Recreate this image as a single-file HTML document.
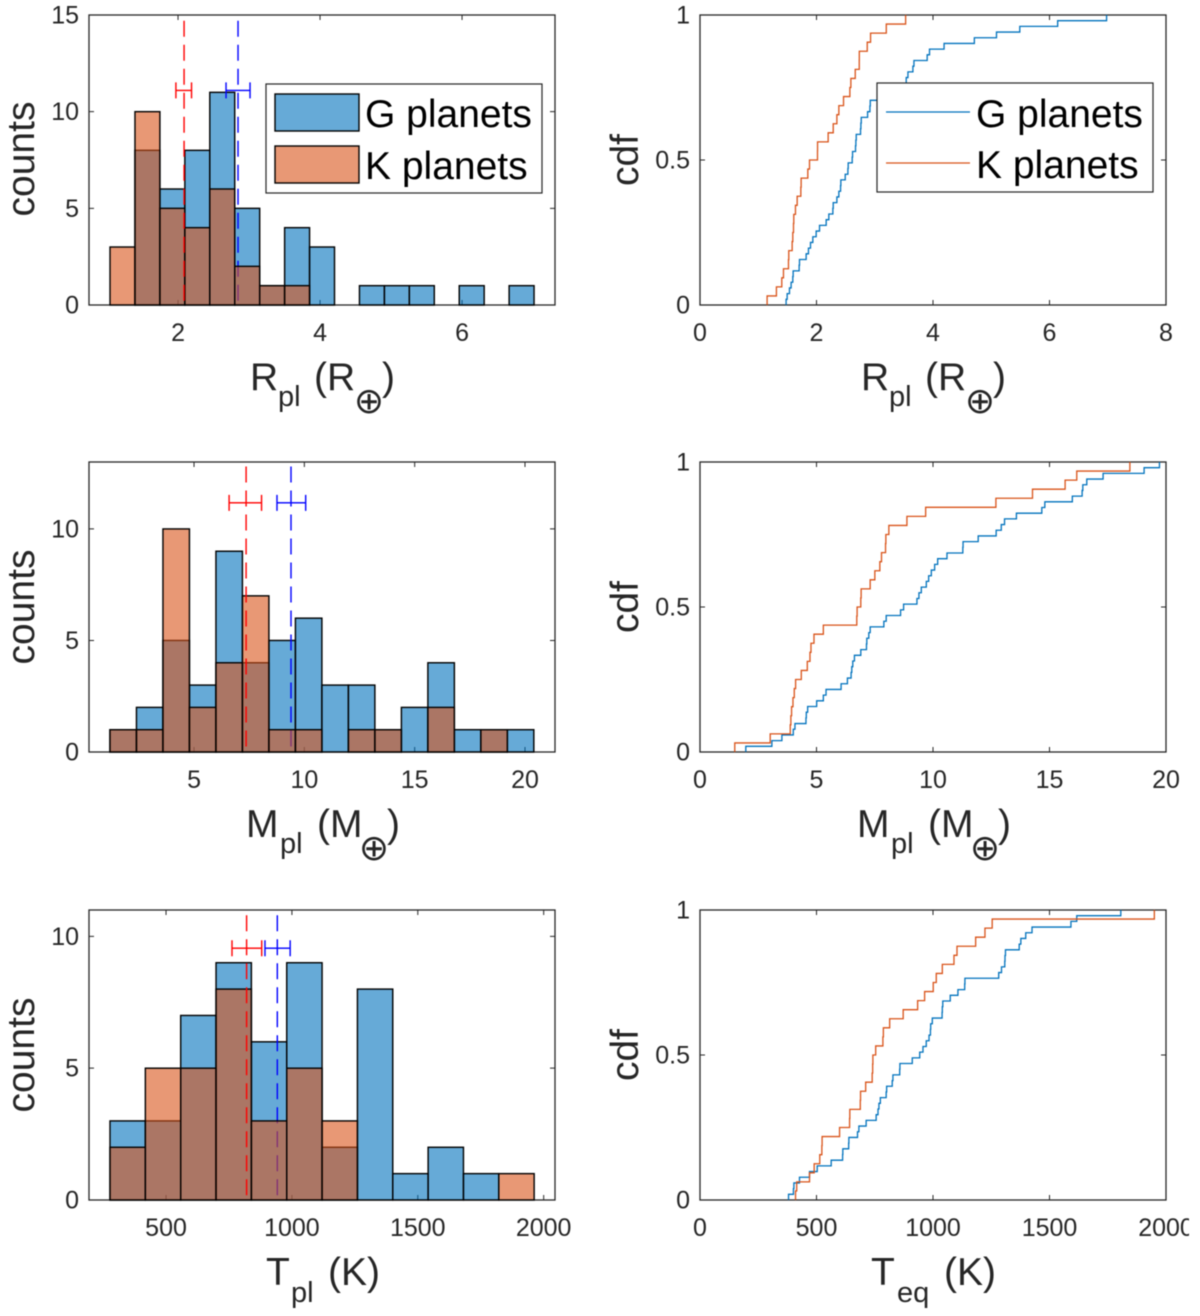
<!DOCTYPE html>
<html lang="en">
<head>
<meta charset="utf-8">
<title>G and K planet histograms and CDFs</title>
<style>
html,body{margin:0;padding:0;background:#fff;}
svg{display:block;filter:blur(0.4px);}
text{font-family:"Liberation Sans","DejaVu Sans",sans-serif;fill:#262626;}
.tick{font-size:25px;}
.lab{font-size:39px;}
.sub{font-size:29px;}
.leg{font-size:39px;fill:#000;}
.earth{font-family:"DejaVu Sans",sans-serif;font-size:36px;text-anchor:middle;}
</style>
</head>
<body>
<svg id="figure" xmlns="http://www.w3.org/2000/svg" width="1200" height="1316" viewBox="0 0 1200 1316">
  <rect x="0" y="0" width="1200" height="1316" fill="#fff"/>
  <g id="panels"></g>

  <g>
    <text class="lab" transform="translate(34,159) rotate(-90)" text-anchor="middle">counts</text>
    <text class="lab" y="390"><tspan x="250">R</tspan><tspan class="sub" x="278" y="406">pl</tspan><tspan x="314" y="390">(R</tspan><tspan x="382">)</tspan></text>
    <text class="earth" x="369" y="413">⊕</text>
  </g>
  <g>
    <text class="lab" transform="translate(638,160) rotate(-90)" text-anchor="middle">cdf</text>
    <text class="lab" y="390"><tspan x="861">R</tspan><tspan class="sub" x="889" y="406">pl</tspan><tspan x="925" y="390">(R</tspan><tspan x="993">)</tspan></text>
    <text class="earth" x="980" y="413">⊕</text>
  </g>
  <g>
    <text class="lab" transform="translate(34,607) rotate(-90)" text-anchor="middle">counts</text>
    <text class="lab" y="837"><tspan x="246">M</tspan><tspan class="sub" x="280" y="853">pl</tspan><tspan x="317" y="837">(M</tspan><tspan x="387">)</tspan></text>
    <text class="earth" x="374" y="860">⊕</text>
  </g>
  <g>
    <text class="lab" transform="translate(638,607) rotate(-90)" text-anchor="middle">cdf</text>
    <text class="lab" y="837"><tspan x="857">M</tspan><tspan class="sub" x="891" y="853">pl</tspan><tspan x="928" y="837">(M</tspan><tspan x="998">)</tspan></text>
    <text class="earth" x="985" y="860">⊕</text>
  </g>
  <g>
    <text class="lab" transform="translate(34,1055) rotate(-90)" text-anchor="middle">counts</text>
    <text class="lab" y="1285"><tspan x="266">T</tspan><tspan class="sub" x="291" y="1302">pl</tspan><tspan x="328" y="1285">(K)</tspan></text>
  </g>
  <g>
    <text class="lab" transform="translate(638,1055) rotate(-90)" text-anchor="middle">cdf</text>
    <text class="lab" y="1285"><tspan x="871">T</tspan><tspan class="sub" x="897" y="1302">eq</tspan><tspan x="944" y="1285">(K)</tspan></text>
  </g>

  <g>
    <rect x="266" y="84" width="276" height="109" fill="#fff" stroke="#262626" stroke-width="1.2"/>
    <rect x="275" y="94" width="84" height="37" fill="#66AAD7" stroke="#000" stroke-width="1.4"/>
    <text class="leg" x="365" y="127">G planets</text>
    <rect x="275" y="146" width="84" height="37" fill="#E89875" stroke="#000" stroke-width="1.4"/>
    <text class="leg" x="365" y="179">K planets</text>
  </g>
  <g>
    <rect x="877" y="83" width="276" height="109" fill="#fff" stroke="#262626" stroke-width="1.2"/>
    <line x1="886" x2="970" y1="112" y2="112" stroke="#0072BD" stroke-width="1.2"/>
    <text class="leg" x="976" y="127">G planets</text>
    <line x1="886" x2="970" y1="163" y2="163" stroke="#D95319" stroke-width="1.2"/>
    <text class="leg" x="976" y="178">K planets</text>
  </g>
  <rect x="1189" y="0" width="11" height="1316" fill="#fff"/>
</svg>

<script>
// ---- Histogram counts ----
const radiusCountsG = [0,8,6,8,11,5,1,4,3,0,1,1,1,0,1,0,1];
const radiusCountsK = [3,10,5,4,6,2,1,1,0,0,0,0,0,0,0,0,0];
const massCountsG = [1,2,5,3,9,4,5,6,3,3,1,2,4,1,1,1];
const massCountsK = [1,1,10,2,4,7,1,1,0,1,1,0,2,0,1,0];
const tempCountsG = [3,3,7,9,6,9,2,8,1,2,1,0];
const tempCountsK = [2,5,5,8,3,5,3,0,0,0,0,1];

// ---- Histogram bins: [first edge, bin width] ----
const radiusBins = [1.042,0.3513];
const massBins = [1.19,1.2007];
const tempBins = [277.4,140.4];

// ---- Means with error ranges: [mean, low, high] ----
const radiusMeanG = [2.845,2.676,3.014];
const radiusMeanK = [2.085,1.97,2.19];
const massMeanG = [9.395,8.76,10.06];
const massMeanK = [7.36,6.59,8.06];
const tempMeanG = [942,893,993];
const tempMeanK = [820,762,880];

// ---- Mean marker heights in counts: [error bar level, dashed line top] ----
const radiusMarkerLevels = [11.1,14.7];
const massMarkerLevels = [11.17,12.8];
const tempMarkerLevels = [9.55,10.8];

// ---- Axis limits and tick labels ----
const radiusHistXLim = [0.746,7.309];
const massHistXLim = [0.24,21.36];
const tempHistXLim = [194,2045];
const radiusHistYMax = [15];
const massHistYMax = [13];
const tempHistYMax = [11];
const radiusHistXTicks = [2,4,6];
const massHistXTicks = [5,10,15,20];
const tempHistXTicks = [500,1000,1500,2000];
const radiusHistYTicks = [0,5,10,15];
const massHistYTicks = [0,5,10];
const tempHistYTicks = [0,5,10];
const radiusCdfXTicks = [0,2,4,6,8];
const massCdfXTicks = [0,5,10,15,20];
const tempCdfXTicks = [0,500,1000,1500,2000];
const cdfYTicks = [0,0.5,1];

// ---- CDF samples (sorted values; each sample is one step) ----
const radiusSamplesG = [1.478,1.496,1.536,1.564,1.593,1.599,1.702,1.708,1.822,1.862,1.897,1.937,1.994,2.052,2.166,2.212,2.281,2.287,2.35,2.384,2.413,2.418,2.493,2.539,2.544,2.613,2.619,2.67,2.676,2.682,2.756,2.762,2.768,2.877,2.917,2.923,3.1,3.2,3.3,3.54,3.57,3.655,3.673,3.9,3.94,4.19,4.71,5.09,5.49,6.14,6.98];
const radiusSamplesK = [1.152,1.312,1.404,1.433,1.519,1.524,1.582,1.593,1.605,1.61,1.639,1.668,1.731,1.736,1.851,1.88,2.017,2.018,2.2,2.287,2.35,2.384,2.464,2.573,2.59,2.665,2.734,2.735,2.871,2.928,3.198,3.53];
const massSamplesG = [1.966,3.085,3.515,4.003,4.075,4.548,4.562,4.62,5.007,5.294,5.409,6.055,6.327,6.485,6.514,6.557,6.628,6.901,7.145,7.159,7.245,7.303,7.891,7.991,8.608,8.738,9.311,9.397,9.498,9.713,9.813,9.928,10.07,10.2,10.6,11.28,11.29,11.94,12.71,12.93,13.07,13.58,14.67,14.8,15.98,16.4,16.43,16.6,17.3,19.06,19.72];
const massSamplesK = [1.492,3.013,3.874,3.9,3.93,3.99,4.046,4.103,4.347,4.605,4.72,4.763,4.892,5.294,6.729,6.743,6.9,6.915,7.303,7.504,7.719,7.79,7.963,7.977,8.106,8.881,9.684,12.7,14.27,15.67,16.17,18.45];
const tempSamplesG = [380,401,403,427,470,503,563,612,613,638,639,676,682,713,756,764,768,774,799,801,825,828,857,858,911,943,957,971,983,989,990,997,1039,1040,1042,1074,1107,1136,1137,1282,1294,1308,1309,1311,1370,1377,1398,1425,1592,1617,1806];
const tempSamplesK = [410,415,470,490,514,523,524,599,642,643,688,689,711,739,741,742,754,785,787,814,872,934,964,1001,1014,1040,1090,1103,1183,1223,1254,1950];

// ---- Drawing ----
const NS = 'http://www.w3.org/2000/svg';
const PANEL_W = 466, PANEL_H = 290, TICK = 5;
const COL_G = '#0072BD', COL_K = '#D95319', INK = '#262626';
const root = document.getElementById('panels');

function el(tag, parent, attrs) {
  const node = document.createElementNS(NS, tag);
  for (const key in attrs) node.setAttribute(key, attrs[key]);
  parent.appendChild(node);
  return node;
}

function makeScale(d0, d1, r0, r1) {
  return function (v) { return r0 + (v - d0) / (d1 - d0) * (r1 - r0); };
}

function drawAxes(g, x, y, box, xTicks, yTicks, yLabelFn, prefix) {
  const frame = el('rect', g, {x: box.l, y: box.t, width: PANEL_W, height: PANEL_H, fill: '#fff', stroke: INK, 'stroke-width': 1.3});
  
  
  xTicks.forEach(function (t) {
    const px = x(t);
    const mark = el('path', g, {d: 'M' + px + ' ' + box.b + 'v' + (-TICK) + 'M' + px + ' ' + box.t + 'v' + TICK, stroke: INK, 'stroke-width': 1, fill: 'none'});
    
    
    const label = el('text', g, {class: 'tick', x: px, y: box.b + 36, 'text-anchor': 'middle'});
    label.textContent = String(t);
    
    
  });
  yTicks.forEach(function (t) {
    const py = y(t);
    const mark = el('path', g, {d: 'M' + box.l + ' ' + py + 'h' + TICK + 'M' + (box.l + PANEL_W) + ' ' + py + 'h' + (-TICK), stroke: INK, 'stroke-width': 1, fill: 'none'});
    
    
    const label = el('text', g, {class: 'tick', x: box.l - 10, y: py + 8.5, 'text-anchor': 'end'});
    label.textContent = yLabelFn(t);
    
    
  });
}

function drawBars(g, x, y, bins, counts, color, prefix) {
  counts.forEach(function (c, i) {
    const x0 = x(bins[0] + i * bins[1]);
    const x1 = x(bins[0] + (i + 1) * bins[1]);
    const bar = el('rect', g, {x: x0, y: y(c), width: x1 - x0, height: y(0) - y(c), fill: color, 'fill-opacity': 0.6, stroke: '#000', 'stroke-width': 1.4});
    
    
  });
}

function drawMean(g, x, y, mean, levels, color, prefix) {
  const dash = el('line', g, {x1: x(mean[0]), x2: x(mean[0]), y1: y(levels[1]), y2: y(0), stroke: color, 'stroke-width': 1.4, 'stroke-dasharray': '16 8'});
  
  
  const py = y(levels[0]);
  const err = el('path', g, {d: 'M' + x(mean[1]) + ' ' + (py - 8) + 'v16M' + x(mean[2]) + ' ' + (py - 8) + 'v16M' + x(mean[1]) + ' ' + py + 'H' + x(mean[2]), stroke: color, 'stroke-width': 1.4, fill: 'none'});
  
  
}

function drawHist(name, left, top, xLim, yMax, bins, countsG, countsK, meanG, meanK, levels, xTicks, yTicks) {
  const g = el('g', root, {});
  
  
  const box = {l: left, t: top, b: top + PANEL_H};
  const x = makeScale(xLim[0], xLim[1], left, left + PANEL_W);
  const y = makeScale(0, yMax[0], top + PANEL_H, top);
  drawAxes(g, x, y, box, xTicks, yTicks, String, name);
  drawBars(g, x, y, bins, countsG, COL_G, name + '-g');
  drawMean(g, x, y, meanG, levels, '#0000FF', name + '-g');
  drawBars(g, x, y, bins, countsK, COL_K, name + '-k');
  drawMean(g, x, y, meanK, levels, '#FF0000', name + '-k');
}

function stepPath(samples, x, y) {
  let d = 'M' + x(samples[0]) + ' ' + y(0);
  samples.forEach(function (v, i) {
    d += 'H' + x(v) + 'V' + y((i + 1) / samples.length);
  });
  return d;
}

function drawCdf(name, left, top, xMax, samplesG, samplesK, xTicks) {
  const g = el('g', root, {});
  
  
  const box = {l: left, t: top, b: top + PANEL_H};
  const x = makeScale(0, xMax, left, left + PANEL_W);
  const y = makeScale(0, 1, top + PANEL_H, top);
  drawAxes(g, x, y, box, xTicks, cdfYTicks, String, name);
  const lineG = el('path', g, {d: stepPath(samplesG, x, y), fill: 'none', stroke: COL_G, 'stroke-width': 1.3});
  
  
  const lineK = el('path', g, {d: stepPath(samplesK, x, y), fill: 'none', stroke: COL_K, 'stroke-width': 1.3});
  
  
}

drawHist('radius-hist', 89, 15, radiusHistXLim, radiusHistYMax, radiusBins, radiusCountsG, radiusCountsK, radiusMeanG, radiusMeanK, radiusMarkerLevels, radiusHistXTicks, radiusHistYTicks);
drawHist('mass-hist', 89, 462, massHistXLim, massHistYMax, massBins, massCountsG, massCountsK, massMeanG, massMeanK, massMarkerLevels, massHistXTicks, massHistYTicks);
drawHist('temperature-hist', 89, 910, tempHistXLim, tempHistYMax, tempBins, tempCountsG, tempCountsK, tempMeanG, tempMeanK, tempMarkerLevels, tempHistXTicks, tempHistYTicks);
drawCdf('radius-cdf', 700, 15, 8, radiusSamplesG, radiusSamplesK, radiusCdfXTicks);
drawCdf('mass-cdf', 700, 462, 20, massSamplesG, massSamplesK, massCdfXTicks);
drawCdf('temperature-cdf', 700, 910, 2000, tempSamplesG, tempSamplesK, tempCdfXTicks);
</script>
</body>
</html>
